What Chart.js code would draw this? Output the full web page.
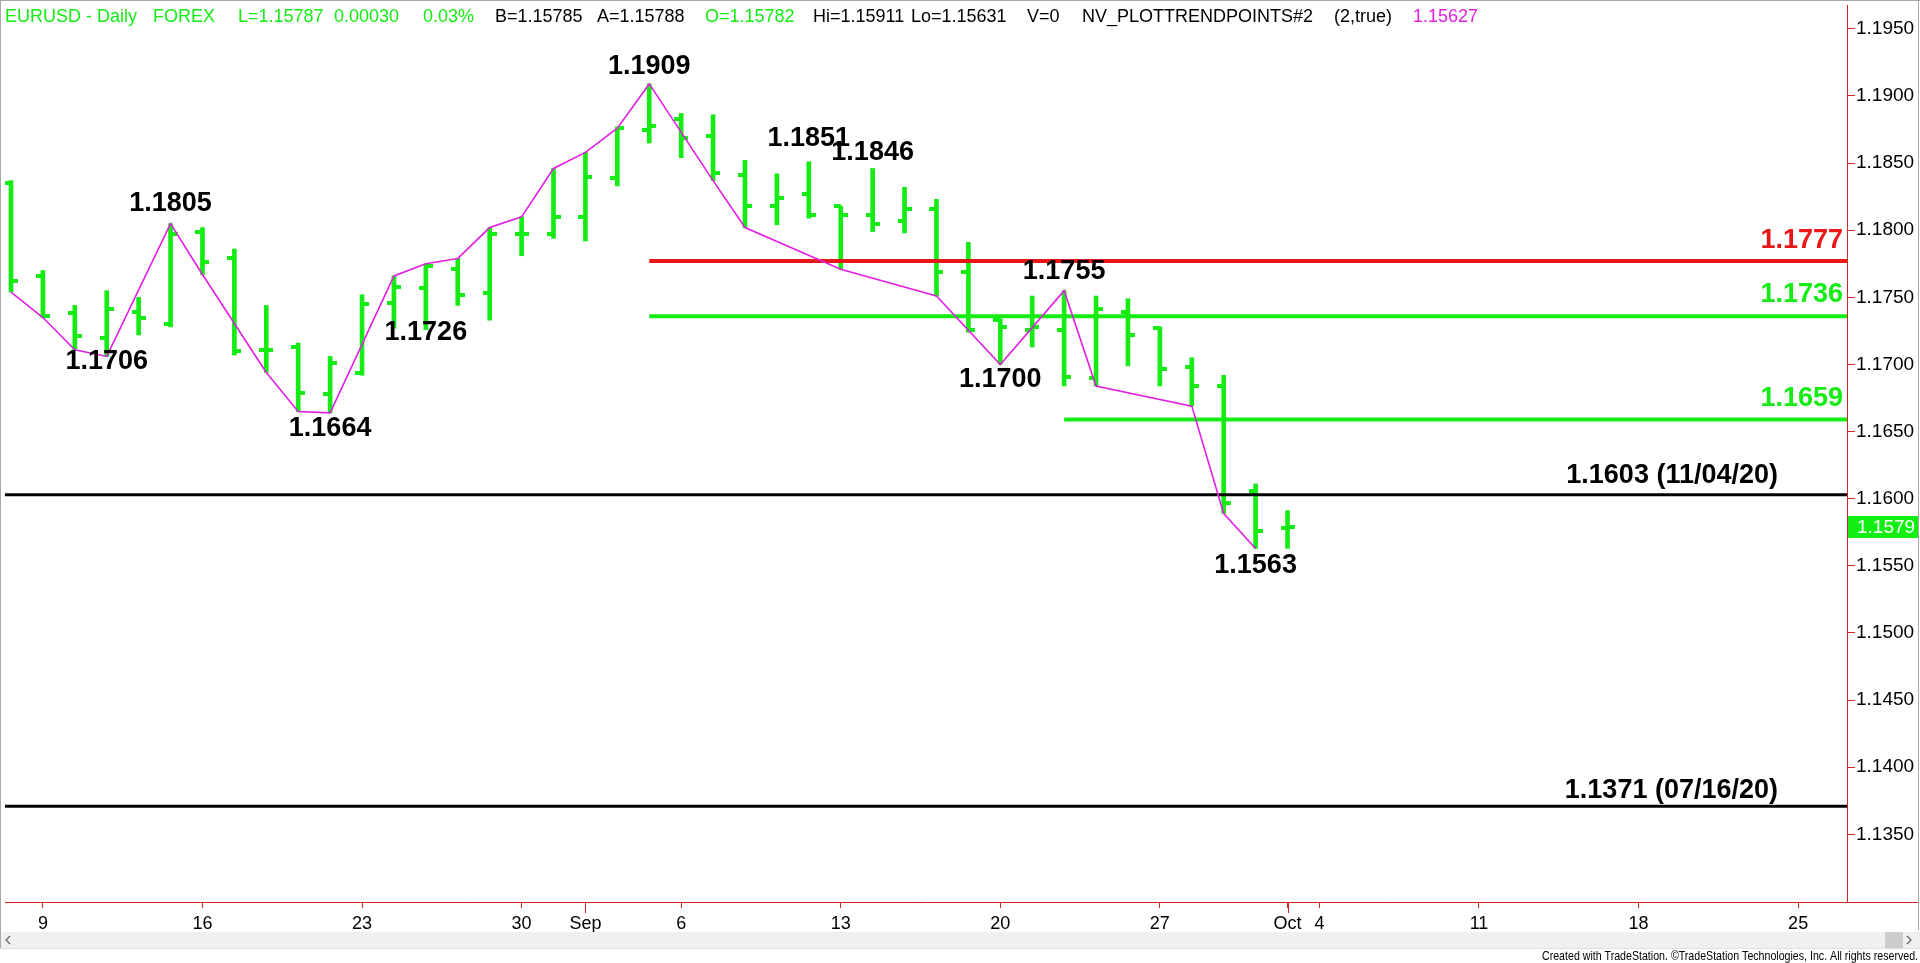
<!DOCTYPE html>
<html>
<head>
<meta charset="utf-8">
<script src="https://cdn.jsdelivr.net/npm/chart.js@4.4.0/dist/chart.umd.min.js"></script>
<style>
html,body{margin:0;padding:0;background:#fff;overflow:hidden}
#wrap{width:1920px;height:963px;position:relative}
canvas{display:block}
</style>
</head>
<body>
<div id="wrap"><canvas id="c" width="1920" height="963"></canvas></div>
<script>
// ---------------- DATA ----------------
const tradingDays = ['Aug 6','Aug 9','Aug 10','Aug 11','Aug 12','Aug 13','Aug 16','Aug 17','Aug 18','Aug 19','Aug 20',
  'Aug 23','Aug 24','Aug 25','Aug 26','Aug 27','Aug 30','Aug 31','Sep 1','Sep 2','Sep 3',
  'Sep 6','Sep 7','Sep 8','Sep 9','Sep 10','Sep 13','Sep 14','Sep 15','Sep 16','Sep 17',
  'Sep 20','Sep 21','Sep 22','Sep 23','Sep 24','Sep 27','Sep 28','Sep 29','Sep 30','Oct 1'];
const opens  = [1.1835,1.1766,1.1738,1.1720,1.1739,1.1730,1.1799,1.1779,1.1711,1.1713,1.1678,
  1.1694,1.1746,1.1757,1.1771,1.1753,1.1797,1.1797,1.1810,1.1839,1.1875,
  1.1883,1.1870,1.1841,1.1818,1.1827,1.1818,1.1811,1.1807,1.1816,1.1769,
  1.1733,1.1726,1.1726,1.1690,1.1739,1.1727,1.1698,1.1684,1.1606,1.15782];
const highs  = [1.1837,1.1770,1.1744,1.1755,1.1750,1.1805,1.1802,1.1786,1.1744,1.1716,1.1706,
  1.1752,1.1766,1.1775,1.1779,1.1802,1.1810,1.1846,1.1858,1.1877,1.1909,
  1.1887,1.1886,1.1852,1.1842,1.1851,1.1818,1.1846,1.1832,1.1823,1.1791,
  1.1734,1.1751,1.1755,1.1751,1.1749,1.1728,1.1705,1.1692,1.1611,1.15911];
const lows   = [1.1754,1.1735,1.1711,1.1706,1.1722,1.1728,1.1767,1.1707,1.1694,1.1665,1.1664,
  1.1692,1.1727,1.1726,1.1744,1.1733,1.1781,1.1794,1.1792,1.1833,1.1865,
  1.1854,1.1837,1.1802,1.1804,1.1809,1.1771,1.1799,1.1798,1.1751,1.1724,
  1.1700,1.1713,1.1684,1.1684,1.1699,1.1684,1.1669,1.1589,1.1563,1.15631];
const closes = [1.1762,1.1736,1.1721,1.1741,1.1735,1.1797,1.1776,1.1710,1.1711,1.1679,1.1701,
  1.1745,1.1758,1.1773,1.1752,1.1797,1.1797,1.1810,1.1840,1.1876,1.1878,
  1.1869,1.1843,1.1818,1.1824,1.1811,1.1811,1.1805,1.1816,1.1769,1.1726,
  1.1728,1.1728,1.1691,1.1741,1.1722,1.1697,1.1684,1.1597,1.1576,1.15787];

// date axis (trading-day index of each labelled tick)
const dateTickIndex  = [1,6,11,16,18,21,26,31,36,40,41,46,51,56];
const dateTickLabels = ['9','16','23','30','Sep','6','13','20','27','Oct','4','11','18','25'];
const monthTickIndex = [18,40];
// price axis
const priceTicks = [1.1350,1.1400,1.1450,1.1500,1.1550,1.1600,1.1650,1.1700,1.1750,1.1800,1.1850,1.1900,1.1950];

// NV_PLOTTRENDPOINTS zigzag
const trendIdx = [0,1,2,3,5,6,8,9,10,12,13,14,15,16,17,18,19,20,22,23,26,29,31,33,34,37,38,39];
const trendVal = [1.1754,1.1735,1.1711,1.1706,1.1805,1.1767,1.1694,1.1665,1.1664,1.1766,1.1775,1.1779,1.1802,1.1810,
  1.1846,1.1858,1.1876,1.1909,1.1837,1.1802,1.1771,1.1751,1.1700,1.1755,1.1684,1.1669,1.1589,1.1563];

// pivot labels
const pivotIdx  = [5,3,10,13,20,25,27,33,31,39];
const pivotVal  = [1.1805,1.1706,1.1664,1.1726,1.1909,1.1851,1.1846,1.1755,1.1700,1.1563];
const pivotSide = ['high','low','low','low','high','high','high','high','low','low'];

// horizontal levels
const levelVal  = [1.1777,1.1736,1.1659,1.1603,1.1371];
const levelFrom = [20,20,33,null,null];
const levelText = ['1.1777','1.1736','1.1659','1.1603 (11/04/20)','1.1371 (07/16/20)'];

// header
const headerTexts = ['EURUSD - Daily','FOREX','L=1.15787','0.00030','0.03%','B=1.15785','A=1.15788','O=1.15782',
  'Hi=1.15911','Lo=1.15631','V=0','NV_PLOTTRENDPOINTS#2','(2,true)','1.15627'];
const footerText = 'Created with TradeStation. \u00A9TradeStation Technologies, Inc. All rights reserved.';

// ---------------- STYLE / LAYOUT ----------------
const GREEN = '#14ec14';
const RED_LINE = '#e81818';
const AXIS_RED = '#d02626';
const MAGENTA = '#e21fe2';
const FONT = '"Liberation Sans", Arial, sans-serif';
const X_MIN = -0.1875, X_MAX = X_MIN + 1847/32;
const Y_MAX = 1.1950 + 24/13500, Y_MIN = Y_MAX - 902/13500;
const levelColor = [RED_LINE, GREEN, GREEN, '#000000', '#000000'];
const levelWidth = [4, 4, 4, 3, 3];
const levelLabelRightGap = [4, 4, 4, 69, 69];
const levelLabelDy = [-13, -14, -14, -12, -8];
const pivotDy = [-13, 13, 23, 10, -10, -16, -8, -12, 23, 25];
const headerX = [5,153,238,334,423,495,597,705,813,911,1027,1082,1334,1413];
const headerColor = [GREEN,GREEN,GREEN,GREEN,GREEN,'#000','#000',GREEN,'#000','#000','#000','#000','#000',MAGENTA];

Chart.defaults.font.family = FONT;

function tickCanvas(side){
  const cv = document.createElement('canvas');
  cv.width = 14; cv.height = 4;
  const g = cv.getContext('2d');
  g.fillStyle = GREEN;
  g.fillRect(side === 'left' ? 0 : 7, 0, 7, 4);
  return cv;
}
const openTick = tickCanvas('left');
const closeTick = tickCanvas('right');

const datasets = [];
datasets.push({
  type:'line', label:'trend', order:0,
  data: trendIdx.map((ix,k)=>({x:ix, y:trendVal[k]})),
  borderColor: MAGENTA, borderWidth: 1.6, pointRadius: 0, tension: 0, fill:false
});
levelVal.forEach((v,k)=>{
  datasets.push({
    type:'line', label:'level'+k, order:1,
    data:[{x: levelFrom[k] === null ? X_MIN : levelFrom[k], y:v},{x:X_MAX, y:v}],
    borderColor: levelColor[k], borderWidth: levelWidth[k], pointRadius:0, fill:false
  });
});
datasets.push({
  type:'line', label:'open', order:2, showLine:false,
  data: opens.map((v,i)=>({x:i, y:v})),
  pointStyle: openTick, pointRadius: 4
});
datasets.push({
  type:'line', label:'close', order:2, showLine:false,
  data: closes.map((v,i)=>({x:i, y:v})),
  pointStyle: closeTick, pointRadius: 4
});
datasets.push({
  type:'bar', label:'range', order:3,
  data: tradingDays.map((d,i)=>({x:i, y:[lows[i], highs[i]]})),
  backgroundColor: GREEN, borderWidth: 0, barThickness: 4
});

function zeroPad(s){ s.paddingLeft = 0; s.paddingRight = 0; s.paddingTop = 0; s.paddingBottom = 0; }

const decor = {
  id:'decor',
  afterDraw(chart){
    const ctx = chart.ctx, xs = chart.scales.x, ys = chart.scales.y, ca = chart.chartArea;
    ctx.save();
    // frame
    ctx.strokeStyle = '#a8a8a8'; ctx.lineWidth = 1;
    ctx.beginPath(); ctx.moveTo(0, 0.5); ctx.lineTo(1920, 0.5); ctx.stroke();
    ctx.beginPath(); ctx.moveTo(0.5, 0); ctx.lineTo(0.5, 948); ctx.stroke();
    ctx.beginPath(); ctx.moveTo(1918.5, 0); ctx.lineTo(1918.5, 930); ctx.stroke();
    // red bottom extension under the price axis
    ctx.strokeStyle = AXIS_RED;
    ctx.beginPath(); ctx.moveTo(ca.right, ca.bottom + 0.5); ctx.lineTo(1918, ca.bottom + 0.5); ctx.stroke();
    // longer month ticks
    monthTickIndex.forEach(ix=>{
      const px = Math.round(xs.getPixelForValue(ix)) + 0.5;
      ctx.beginPath(); ctx.moveTo(px, ca.bottom); ctx.lineTo(px, ca.bottom + 11); ctx.stroke();
    });
    // header
    ctx.font = '18px ' + FONT; ctx.textBaseline = 'alphabetic'; ctx.textAlign = 'left';
    headerTexts.forEach((t,k)=>{ ctx.fillStyle = headerColor[k]; ctx.fillText(t, headerX[k], 22); });
    // pivot labels
    ctx.font = 'bold 27px ' + FONT; ctx.textAlign = 'center'; ctx.fillStyle = '#000';
    pivotIdx.forEach((ix,k)=>{
      const px = xs.getPixelForValue(ix), py = ys.getPixelForValue(pivotVal[k]);
      ctx.fillText(pivotVal[k].toFixed(4), px, py + pivotDy[k]);
    });
    // level labels
    ctx.textAlign = 'right';
    levelVal.forEach((v,k)=>{
      ctx.fillStyle = levelColor[k];
      ctx.fillText(levelText[k], ca.right - levelLabelRightGap[k], ys.getPixelForValue(v) + levelLabelDy[k]);
    });
    // last price box
    const last = closes[closes.length-1];
    const ly = ys.getPixelForValue(last);
    ctx.fillStyle = '#11ee11';
    ctx.fillRect(ca.right + 1, Math.round(ly) - 11, 70, 22);
    ctx.fillStyle = '#ffffff'; ctx.font = '19px ' + FONT; ctx.textAlign = 'left'; ctx.textBaseline = 'middle';
    ctx.fillText(last.toFixed(4), ca.right + 10, Math.round(ly) + 1);
    // scrollbar
    ctx.fillStyle = '#f0f0f0'; ctx.fillRect(1, 932, 1919, 16);
    ctx.fillStyle = '#cdcdcd'; ctx.fillRect(1885, 932, 18, 16);
    ctx.strokeStyle = '#e0e0e0'; ctx.beginPath(); ctx.moveTo(0, 948.5); ctx.lineTo(1920, 948.5); ctx.stroke();
    ctx.strokeStyle = '#606060'; ctx.lineWidth = 1.2;
    ctx.beginPath(); ctx.moveTo(10, 936); ctx.lineTo(6, 940); ctx.lineTo(10, 944); ctx.stroke();
    ctx.beginPath(); ctx.moveTo(1907, 936); ctx.lineTo(1911, 940); ctx.lineTo(1907, 944); ctx.stroke();
    // footer
    ctx.fillStyle = '#000'; ctx.font = '13px ' + FONT; ctx.textAlign = 'right'; ctx.textBaseline = 'alphabetic';
    ctx.fillText(footerText, 1918, 960, 376);
    ctx.restore();
  }
};

new Chart(document.getElementById('c'), {
  type:'bar',
  data:{ datasets },
  options:{
    responsive:false, animation:false, events:[], devicePixelRatio:1,
    layout:{ padding:0 },
    plugins:{ legend:{display:false}, tooltip:{enabled:false} },
    scales:{
      x:{
        type:'linear', position:'bottom', min:X_MIN, max:X_MAX, offset:false,
        grid:{ drawOnChartArea:false, drawTicks:true, tickLength:6, tickColor:AXIS_RED, offset:false },
        border:{ display:true, color:AXIS_RED, width:1 },
        ticks:{ autoSkip:false, maxRotation:0, minRotation:0, padding:5, color:'#000', font:{size:18},
          callback:(v)=>{ const k = dateTickIndex.indexOf(v); return k >= 0 ? dateTickLabels[k] : ''; } },
        afterBuildTicks:(s)=>{ s.ticks = dateTickIndex.map(v=>({value:v})); },
        afterFit:(s)=>{ s.height = 61; zeroPad(s); }
      },
      y:{
        type:'linear', position:'right', min:Y_MIN, max:Y_MAX,
        grid:{ drawOnChartArea:false, drawTicks:true, tickLength:8, tickColor:AXIS_RED },
        border:{ display:true, color:AXIS_RED, width:1 },
        ticks:{ padding:1, color:'#000', font:{size:19}, callback:(v)=>Number(v).toFixed(4) },
        afterBuildTicks:(s)=>{ s.ticks = priceTicks.map(v=>({value:v})); },
        afterFit:(s)=>{ s.width = 73; zeroPad(s); }
      }
    }
  },
  plugins:[decor]
});
</script>
</body>
</html>
